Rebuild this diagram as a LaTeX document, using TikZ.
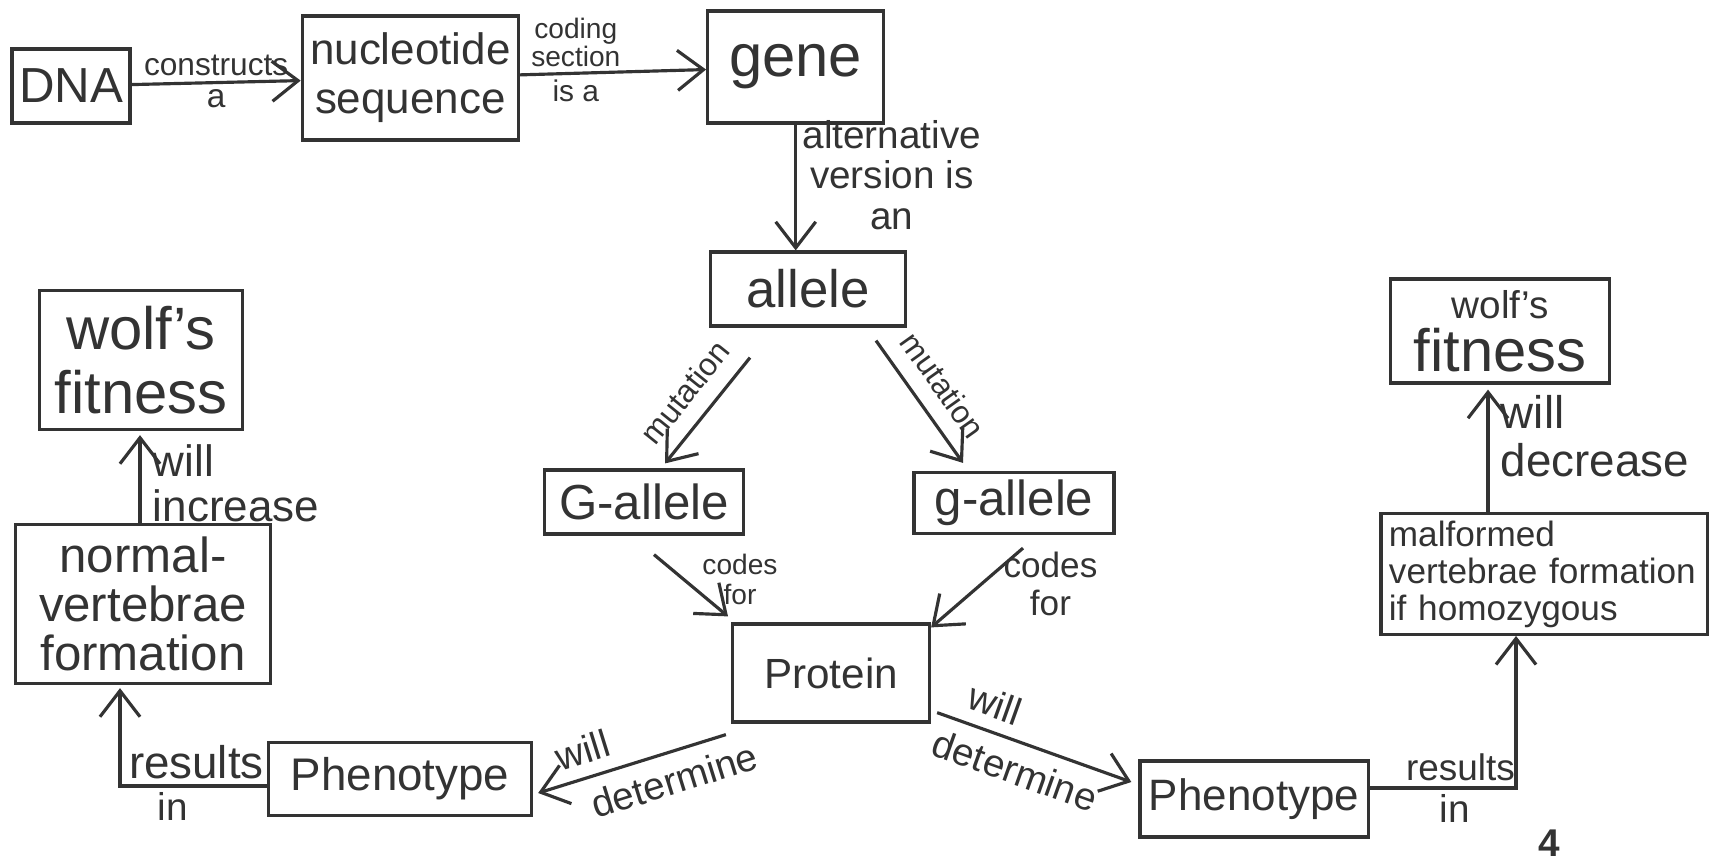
\documentclass[tikz,border=0pt]{standalone}
\usepackage{fontspec}
\setmainfont{Liberation Sans}
\usepackage{tikz}
\usetikzlibrary{positioning,arrows.meta,calc}

\newcommand{\txtsize}[2]{\fontsize{#1}{#2}\selectfont}

\begin{document}
\begin{tikzpicture}[
  x=0.01cm, y=-0.01cm,
  box/.style={draw=pencil, line width=0.9pt, text=pencil, align=center, inner sep=2pt},
  lbl/.style={text=pencil, inner sep=1.5pt, align=center},
  arr/.style={draw=pencil, line width=0.9pt, -{Straight Barb[length=2.6mm, width=4mm]}},
  node distance=1.69cm,
]
\definecolor{pencil}{HTML}{333333}
\useasboundingbox (0,0) rectangle (1716,860);

% top row
\node[box, minimum width=1.16cm, minimum height=0.74cm, font=\txtsize{14}{15}] (dna) at (71,86) {DNA};
\node[box, right=1.69cm of dna, yshift=0.08cm, minimum width=2.16cm, minimum height=1.24cm, font=\txtsize{12.5}{14}] (nuc) {nucleotide\\sequence};
\node[box, right=1.86cm of nuc, yshift=0.11cm, minimum width=1.76cm, minimum height=1.12cm, font=\txtsize{17}{18}] (gene) {gene};

% alleles and protein
\node[box, minimum width=1.95cm, minimum height=0.74cm, font=\txtsize{15}{16}] (allele) at (808,289) {allele};
\node[box, minimum width=1.99cm, minimum height=0.64cm, font=\txtsize{14}{15}] (Gal) at (644,502) {G-allele};
\node[box, minimum width=2.00cm, minimum height=0.61cm, font=\txtsize{14}{15}] (gal) at (1014,503) {g-allele};
\node[box, minimum width=1.97cm, minimum height=0.98cm, font=\txtsize{12}{13}] (protein) at (831,673) {Protein};

% left side
\node[box, minimum width=2.63cm, minimum height=0.73cm, font=\txtsize{13}{14}] (phenoL) at (400,779) {Phenotype};
\node[box, minimum width=2.55cm, minimum height=1.59cm, font=\txtsize{14}{14}] (normal) at (143,604) {normal-\\vertebrae\\formation};
\node[box, minimum width=2.03cm, minimum height=1.39cm, font=\txtsize{17}{18}] (wolfL) at (141,360) {wolf's\\fitness};

% right side
\node[box, minimum width=2.28cm, minimum height=0.76cm, font=\txtsize{12.5}{13}] (phenoR) at (1254,799) {Phenotype};
\node[box, minimum width=3.26cm, minimum height=1.19cm, align=left, text width=3.1cm, font=\txtsize{10}{10.5}] (malf) at (1544,574) {malformed\\vertebrae formation\\if homozygous};
\node[box, minimum width=2.19cm, minimum height=1.04cm, font=\txtsize{17}{15}] (wolfR) at (1500,331) {{\txtsize{11}{12}wolf's}\\fitness};

\node[text=pencil, font=\bfseries\txtsize{11}{12}] (pnum) at (1549,843) {4};

% connectors
\draw[arr] (dna) -- (nuc)
  node[lbl, midway, above, font=\txtsize{9}{10}] {constructs}
  node[lbl, midway, below, font=\txtsize{9.5}{10}] {a};
\draw[arr] (nuc) -- (gene)
  node[lbl, pos=0.3, above, font=\txtsize{8}{8}] {coding\\section}
  node[lbl, pos=0.3, below, font=\txtsize{8.5}{9}] {is a};
\draw[arr] (gene) -- (gene |- allele.north)
  node[lbl, pos=0.4, right, font=\txtsize{11}{11.5}] {alternative\\version is\\an};

\draw[arr] ($(allele.south)+(-58,30)$) -- ($(Gal.north)+(21,-5)$)
  node[lbl, pos=0.5, sloped, above=3pt, font=\txtsize{9}{10}] {mutation};
\draw[arr] ($(allele.south)+(68,13)$) -- ($(gal.north)+(-51,-8)$)
  node[lbl, pos=0.5, sloped, above=3pt, font=\txtsize{9}{10}] {mutation};

\draw[arr] ($(Gal.south)+(10,19)$) -- ($(protein.north)+(-103,-6)$)
  node[lbl, pos=0.4, right, xshift=0.12cm, font=\txtsize{8}{8.5}] {codes\\for};
\draw[arr] ($(gal.south)+(9,13)$) -- ($(protein.north east)+(0,5)$)
  node[lbl, pos=0.45, right, xshift=0.15cm, font=\txtsize{10}{11}] {codes\\for};

\draw[arr] ($(protein.south west)+(-5,11)$) -- ($(phenoL.east)+(5,14)$)
  node[lbl, pos=0.72, sloped, above=2pt, font=\txtsize{11}{12}] {will}
  node[lbl, pos=0.32, sloped, below=2pt, font=\txtsize{11}{12}] {determine};
\draw[arr] ($(protein.south east)+(6,-11)$) -- ($(phenoR.west)+(-7,-17)$)
  node[lbl, pos=0.25, sloped, above=2pt, font=\txtsize{11}{12}] {will}
  node[lbl, pos=0.45, sloped, below=2pt, font=\txtsize{11}{12}] {determine};

\draw[arr] ($(phenoL.west)+(0,7)$) -| ($(normal.south)+(-23,3)$)
  node[lbl, pos=0.24, above, font=\txtsize{13}{14}] {results}
  node[lbl, pos=0.32, below, font=\txtsize{11}{12}] {in};
\draw[arr] ($(phenoR.east)+(0,-11)$) -| ($(malf.south)+(-28,0)$)
  node[lbl, pos=0.31, above, font=\txtsize{10.5}{11}] {results}
  node[lbl, pos=0.29, below, font=\txtsize{11}{12}] {in};

\draw[arr] ($(normal.north)+(-3,0)$) -- ($(wolfL.south)+(-1,4)$)
  node[lbl, pos=0.45, right, xshift=0.06cm, align=left, font=\txtsize{12.5}{13}] {will\\increase};
\draw[arr] ($(malf.north)+(-56,0)$) -- ($(wolfR.south)+(-12,5)$)
  node[lbl, pos=0.62, right, xshift=0.06cm, align=left, font=\txtsize{13}{13.5}] {will\\decrease};
\end{tikzpicture}
\end{document}
